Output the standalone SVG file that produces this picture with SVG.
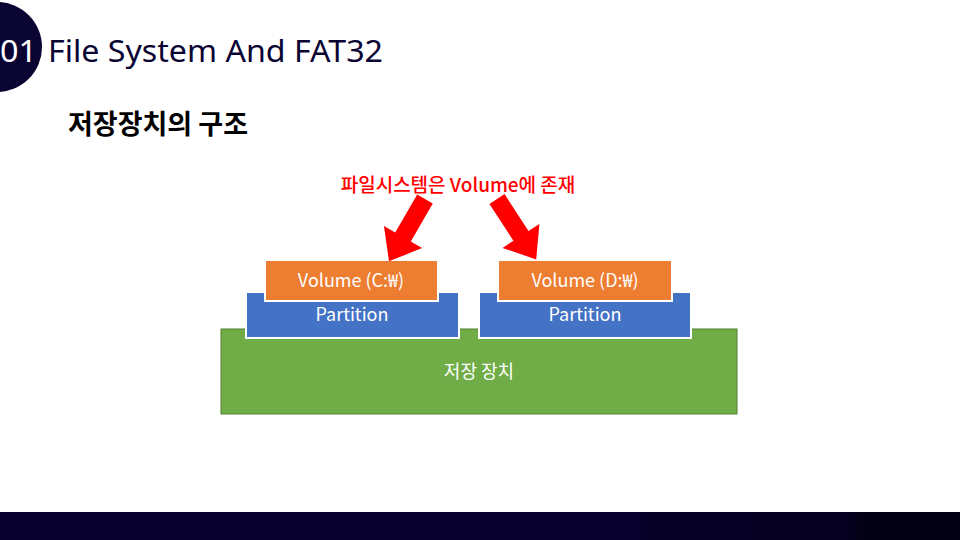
<svg xmlns="http://www.w3.org/2000/svg" width="960" height="540" viewBox="0 0 960 540">
  <defs>
    <linearGradient id="bar" x1="0" y1="0" x2="1" y2="0">
      <stop offset="0" stop-color="#08002f"/>
      <stop offset="0.66" stop-color="#08002f"/>
      <stop offset="0.68" stop-color="#060025"/>
      <stop offset="0.88" stop-color="#060023"/>
      <stop offset="0.9" stop-color="#030014"/>
      <stop offset="1" stop-color="#030014"/>
    </linearGradient>
    <polygon id="arrow" points="-9,0 9,0 9,44 22,44 0,72 -22,44 -9,44"/>
  </defs>
  <style>
    .kr { font-family: "Noto Sans CJK KR", "Noto Sans", sans-serif; }
    .lbl { font-family: "Noto Sans CJK KR", "Noto Sans", sans-serif; font-size: 18px; fill: #ffffff; text-anchor: middle; }
    .vol { fill: #ed7d31; stroke: #ffffff; stroke-width: 2; }
    .part { fill: #4472c4; stroke: #ffffff; stroke-width: 2; }
    .red { fill: #ff0000; }
  </style>
  <rect width="960" height="540" fill="#ffffff"/>

  <g id="header">
    <circle cx="-3" cy="47" r="45" fill="#0a0433"/>
    <text x="0" y="62" font-family="'Noto Sans', sans-serif" font-size="30" fill="#ffffff" textLength="37" lengthAdjust="spacingAndGlyphs">01</text>
    <text x="48" y="62" font-family="'Noto Sans', sans-serif" font-size="30" fill="#0a0433" textLength="335" lengthAdjust="spacingAndGlyphs">File System And FAT32</text>
  </g>

  <g id="subtitle">
    <text x="68" y="134" class="kr" font-size="27" font-weight="bold" fill="#000000">저장장치의 구조</text>
  </g>

  <g id="storage">
    <rect x="221" y="329" width="516" height="85" fill="#70ad47" stroke="#507e32" stroke-width="1"/>
    <text x="479" y="378" class="lbl">저장 장치</text>
  </g>

  <g id="partition-c">
    <rect x="246" y="292" width="213" height="46" class="part"/>
    <text x="352" y="321" class="lbl">Partition</text>
  </g>

  <g id="partition-d">
    <rect x="479" y="292" width="212" height="46" class="part"/>
    <text x="585" y="321" class="lbl">Partition</text>
  </g>

  <g id="volume-c">
    <rect x="265" y="260" width="173" height="41" class="vol"/>
    <text x="351" y="287" class="lbl">Volume (C:₩)</text>
  </g>

  <g id="volume-d">
    <rect x="498" y="260" width="174" height="41" class="vol"/>
    <text x="585" y="287" class="lbl">Volume (D:₩)</text>
  </g>

  <g id="note">
    <text x="458" y="192" class="kr red" font-size="19" font-weight="500" text-anchor="middle">파일시스템은 Volume에 존재</text>
  </g>

  <g id="connectors">
    <use href="#arrow" transform="translate(425,199) rotate(30)" fill="#ff0000"/>
    <use href="#arrow" transform="translate(497,199) rotate(-33)" fill="#ff0000"/>
  </g>

  <g id="footer">
    <rect x="0" y="512" width="960" height="28" fill="url(#bar)"/>
  </g>
</svg>
